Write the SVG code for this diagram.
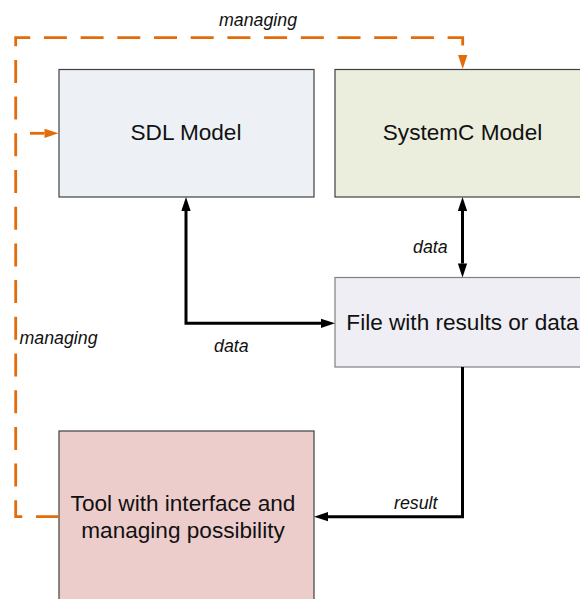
<svg xmlns="http://www.w3.org/2000/svg" width="580" height="599" viewBox="0 0 580 599">
  <style>
    .box { stroke: #404040; stroke-width: 1.2; }
    .node-text { font-family: "Liberation Sans", Arial, sans-serif; font-size: 22.6px; fill: #111; text-anchor: middle; }
    .label { font-family: "Liberation Sans", Arial, sans-serif; font-size: 17.8px; font-style: italic; fill: #111; }
    .flow { fill: none; stroke: #000; stroke-width: 3; }
    .manage { fill: none; stroke: #e36c0a; stroke-width: 2.8; }
  </style>
  <defs>
    <marker id="arrowBlack" markerUnits="userSpaceOnUse" markerWidth="15" markerHeight="10" refX="0" refY="4.65" orient="auto-start-reverse" overflow="visible">
      <path d="M0,0 L14,4.65 L0,9.3 Z" fill="#000"/>
    </marker>
    <marker id="arrowOrange" markerUnits="userSpaceOnUse" markerWidth="15" markerHeight="10" refX="0" refY="4.65" orient="auto" overflow="visible">
      <path d="M0,0 L14,4.65 L0,9.3 Z" fill="#e36c0a"/>
    </marker>
  </defs>

  <rect width="580" height="599" fill="#fff"/>

  <g id="sdl-model">
    <rect class="box" x="59" y="69.5" width="255" height="127.5" fill="#edf1f6"/>
    <text class="node-text" x="186" y="140">SDL Model</text>
  </g>

  <g id="systemc-model">
    <rect class="box" x="335" y="69.5" width="255" height="127.5" fill="#ebeedd"/>
    <text class="node-text" x="462.5" y="140">SystemC Model</text>
  </g>

  <g id="results-file">
    <rect class="box" x="335" y="277.5" width="255" height="89.5" fill="#efeef4" style="stroke:#7f7f7f"/>
    <text class="node-text" x="462.5" y="329.5">File with results or data</text>
  </g>

  <g id="tool">
    <rect class="box" x="59" y="431" width="255" height="190" fill="#eccdcc"/>
    <text class="node-text" x="183" y="510.5">Tool with interface and</text>
    <text class="node-text" x="183" y="538.3">managing possibility</text>
  </g>

  <g id="connectors">
    <!-- data exchange between the models and the results file -->
    <path class="flow" d="M186,211 V323.3 H321" marker-start="url(#arrowBlack)" marker-end="url(#arrowBlack)"/>
    <path class="flow" d="M462.5,211 V263.5" marker-start="url(#arrowBlack)" marker-end="url(#arrowBlack)"/>
    <path class="flow" d="M462.5,367 V516.7 H328" marker-end="url(#arrowBlack)"/>

    <!-- managing paths from the tool -->
    <path class="manage" d="M59,516.7 H15.7 V37.7 H462.7 V55" stroke-dasharray="23 13.7" marker-end="url(#arrowOrange)"/>
    <path class="manage" d="M30,133.3 H44.5" marker-end="url(#arrowOrange)"/>

    <text class="label" x="219" y="25.5">managing</text>
    <text class="label" x="19.5" y="344">managing</text>
    <text class="label" x="413" y="252.7">data</text>
    <text class="label" x="214" y="351.7">data</text>
    <text class="label" x="394" y="508.5">result</text>
  </g>
</svg>
